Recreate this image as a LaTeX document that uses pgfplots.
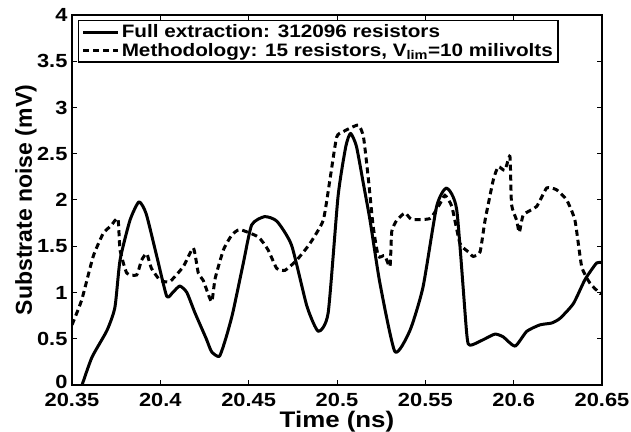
\documentclass[border=0pt]{standalone}
\usepackage{fontspec}
\setmainfont{Liberation Sans}[FakeStretch=1.15]
\newfontfamily\ylabfont{Liberation Sans}
\usepackage{pgfplots}
\pgfplotsset{compat=1.18}

\begin{document}
\begin{tikzpicture}
\begin{axis}[
    name=ax,
    scale only axis,
    width=530pt, height=370pt,
    xmin=20.35, xmax=20.65,
    ymin=0, ymax=4,
    xtick={20.35,20.4,20.45,20.5,20.55,20.6,20.65},
    ytick={0.5,1,1.5,2,2.5,3,3.5,4},
    extra y ticks={0},
    extra y tick style={yticklabel style={yshift=3pt}},
    tick align=inside,
    major tick length=5pt,
    axis line style={line width=1.5pt},
    every tick/.style={line width=1pt, black},
    /pgf/number format/assume math mode=true,
    ticklabel style={font=\bfseries\fontsize{19}{21}\selectfont},
    xticklabel style={inner ysep=0pt, yshift=-8pt},
    yticklabel style={inner ysep=0pt, xshift=-1pt},
    xlabel={Time (ns)},
    ylabel={Substrate noise (mV)},
    xlabel style={font=\bfseries\fontsize{22.5}{24}\selectfont, at={(axis description cs:0.5,-0.098)}, anchor=center},
    ylabel style={font=\ylabfont\bfseries\fontsize{23}{24}\selectfont, at={(axis description cs:-0.087,0.5)}, anchor=center, rotate=0},
    legend style={
        at={(rel axis cs:0,1)}, anchor=north west,
        xshift=6pt, yshift=-5pt,
        draw=black, line width=1.5pt,
        font=\bfseries\fontsize{18}{19.5}\selectfont,
        row sep=0pt, inner xsep=3pt, inner ysep=2pt,
        cells={anchor=west},
    },
    legend image code/.code={\draw[#1, sharp plot] (0pt,0pt) -- (35pt,0pt);},
]
% Full extraction
\addplot[black, line width=3pt, line join=round, smooth, tension=0.35] coordinates {
(20.3557,0) (20.3613,0.30) (20.3698,0.59) (20.3743,0.84) (20.3772,1.35)
(20.3828,1.78) (20.3879,1.98) (20.3920,1.85) (20.3980,1.39) (20.4036,0.96)
(20.4070,1.00) (20.4110,1.07) (20.4150,1.00) (20.4196,0.78) (20.4260,0.50)
(20.4290,0.36) (20.4334,0.31) (20.4370,0.50) (20.4410,0.78) (20.4470,1.32)
(20.4517,1.73) (20.4590,1.82) (20.4660,1.77) (20.4743,1.51) (20.4830,0.85)
(20.4894,0.58) (20.4950,0.78) (20.5006,2.04) (20.5050,2.58)
(20.5077,2.72) (20.5110,2.58) (20.5149,2.18) (20.5187,1.78) (20.5243,1.10)
(20.5328,0.36) (20.5413,0.59) (20.5487,1.06) (20.5564,1.93) (20.5620,2.13)
(20.5678,1.89) (20.5734,0.56) (20.5753,0.43) (20.5828,0.49) (20.5894,0.55)
(20.5941,0.52) (20.6008,0.42) (20.6074,0.58) (20.6149,0.65) (20.6215,0.67)
(20.6262,0.72) (20.6338,0.88) (20.6404,1.14) (20.6470,1.32) (20.6500,1.32)
};
\addlegendentry{Full extraction: 312096 resistors}
% Methodology
\addplot[black, line width=3pt, dash pattern=on 6pt off 4pt, smooth, tension=0.3] coordinates {
(20.35,0.65) (20.3555,0.92) (20.362,1.39) (20.3677,1.64) (20.372,1.72)
(20.376,1.80) (20.3772,1.46) (20.381,1.21) (20.3866,1.19) (20.3894,1.35)
(20.3923,1.42) (20.395,1.26) (20.4,1.13) (20.4055,1.12) (20.413,1.28)
(20.4187,1.48) (20.4215,1.21) (20.4243,1.13) (20.429,0.90) (20.431,1.15)
(20.4357,1.46) (20.4404,1.62) (20.445,1.68) (20.4555,1.60) (20.461,1.46)
(20.4659,1.26) (20.4706,1.24) (20.4772,1.35) (20.4847,1.53) (20.4922,1.78)
(20.496,2.22) (20.4998,2.68) (20.5036,2.74) (20.512,2.81) (20.515,2.68)
(20.5178,2.22) (20.5205,1.71) (20.5234,1.39) (20.527,1.40) (20.53,1.28)
(20.531,1.66) (20.5338,1.78) (20.5385,1.86) (20.5423,1.79) (20.5526,1.80)
(20.558,1.95) (20.5611,2.05) (20.565,1.93) (20.5696,1.53) (20.5743,1.44)
(20.5771,1.39) (20.581,1.44) (20.5838,1.78) (20.5885,2.22) (20.5913,2.36)
(20.595,2.32) (20.5979,2.47) (20.5988,1.95) (20.6017,1.78) (20.6032,1.65)
(20.6055,1.84) (20.613,1.93) (20.6187,2.13) (20.6243,2.11) (20.63,2.0)
(20.6347,1.78) (20.6385,1.28) (20.6432,1.10) (20.6489,0.99) (20.65,1.0)
};
\addlegendentry{Methodology: 15 resistors, V\textsubscript{lim}=10 milivolts}
\end{axis}
\pgfresetboundingbox
\path ([shift={(-72pt,-47pt)}]ax.south west) rectangle ([shift={(29pt,15pt)}]ax.north east);
\end{tikzpicture}
\end{document}
